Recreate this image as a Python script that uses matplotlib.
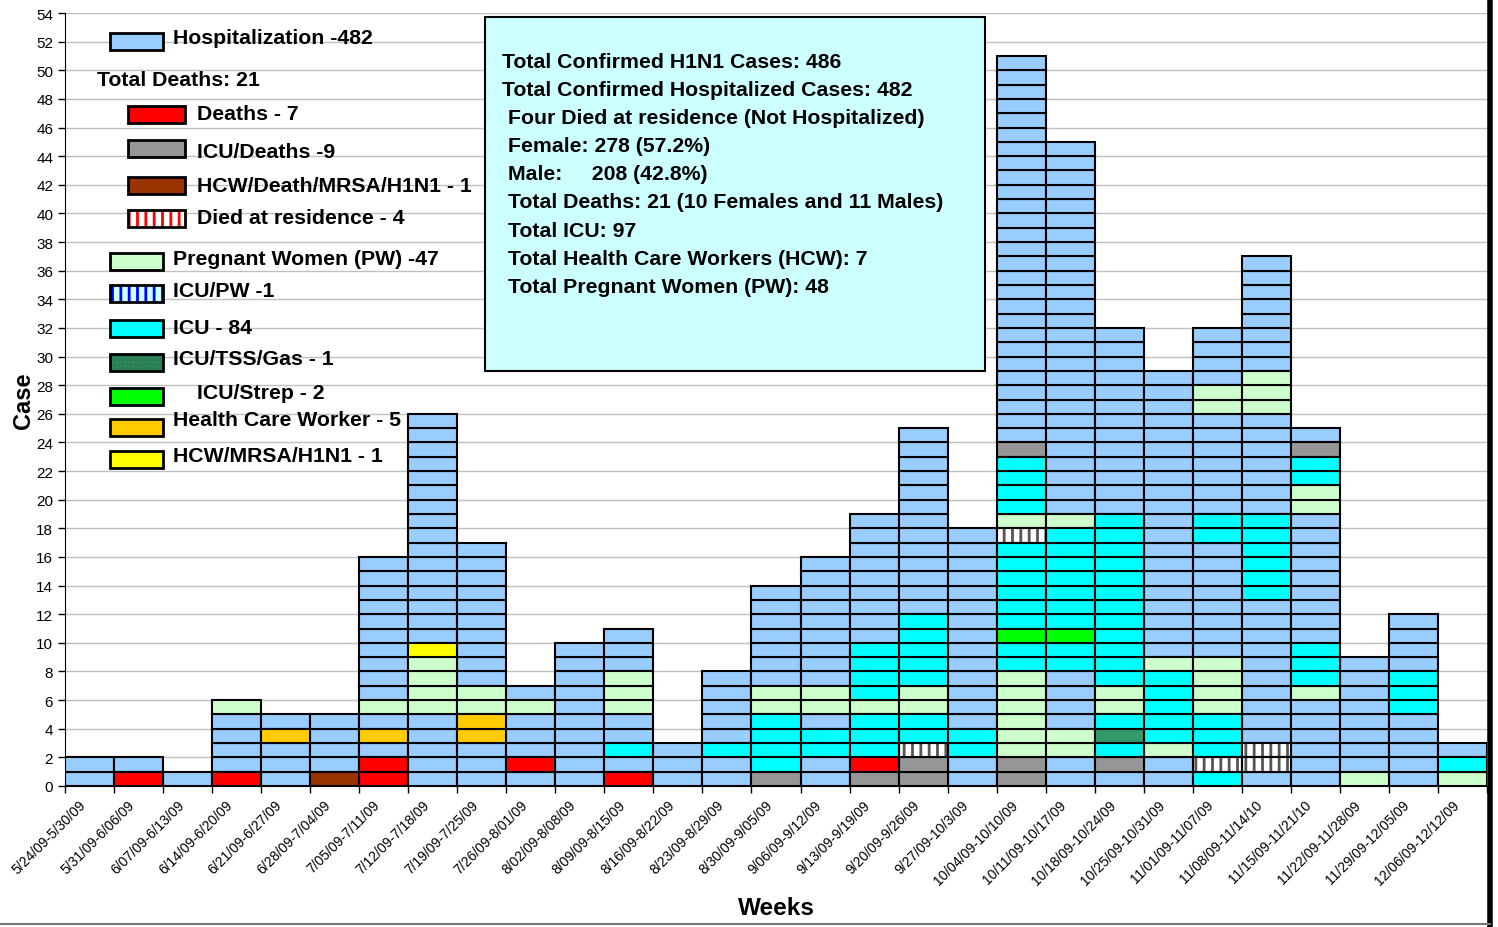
import matplotlib
matplotlib.use("Agg")
import matplotlib.pyplot as plt
from matplotlib.patches import Rectangle

# week labels (x axis)
weeks = ["5/24/09-5/30/09", "5/31/09-6/06/09", "6/07/09-6/13/09", "6/14/09-6/20/09",
         "6/21/09-6/27/09", "6/28/09-7/04/09", "7/05/09-7/11/09", "7/12/09-7/18/09",
         "7/19/09-7/25/09", "7/26/09-8/01/09", "8/02/09-8/08/09", "8/09/09-8/15/09",
         "8/16/09-8/22/09", "8/23/09-8/29/09", "8/30/09-9/05/09", "9/06/09-9/12/09",
         "9/13/09-9/19/09", "9/20/09-9/26/09", "9/27/09-10/3/09", "10/04/09-10/10/09",
         "10/11/09-10/17/09", "10/18/09-10/24/09", "10/25/09-10/31/09", "11/01/09-11/07/09",
         "11/08/09-11/14/10", "11/15/09-11/21/10", "11/22/09-11/28/09", "11/29/09-12/05/09",
         "12/06/09-12/12/09"]

# stacked cases per week, bottom to top, as (category, count) runs
# H hospitalization, D death, G ICU/death, B HCW/death, R died at residence,
# P pregnant, C ICU, T ICU/TSS, S ICU/strep, O HCW, Y HCW/MRSA
stacks = [
    [("H", 2)],
    [("D", 1), ("H", 1)],
    [("H", 1)],
    [("D", 1), ("H", 4), ("P", 1)],
    [("H", 3), ("O", 1), ("H", 1)],
    [("B", 1), ("H", 4)],
    [("D", 2), ("H", 1), ("O", 1), ("H", 1), ("P", 1), ("H", 10)],
    [("H", 5), ("P", 4), ("Y", 1), ("H", 16)],
    [("H", 3), ("O", 2), ("P", 2), ("H", 10)],
    [("H", 1), ("D", 1), ("H", 3), ("P", 1), ("H", 1)],
    [("H", 10)],
    [("D", 1), ("H", 1), ("C", 1), ("H", 2), ("P", 3), ("H", 3)],
    [("H", 3)],
    [("H", 2), ("C", 1), ("H", 5)],
    [("G", 1), ("C", 4), ("P", 2), ("H", 7)],
    [("H", 2), ("C", 2), ("H", 1), ("P", 2), ("H", 9)],
    [("G", 1), ("D", 1), ("C", 3), ("P", 1), ("C", 4), ("H", 9)],
    [("G", 2), ("R", 1), ("C", 2), ("P", 2), ("C", 5), ("H", 13)],
    [("H", 2), ("C", 2), ("H", 14)],
    [("G", 2), ("P", 6), ("C", 2), ("S", 1), ("C", 6), ("R", 1), ("P", 1), ("C", 4), ("G", 1), ("H", 27)],
    [("H", 2), ("P", 2), ("H", 4), ("C", 2), ("S", 1), ("C", 7), ("P", 1), ("H", 26)],
    [("H", 1), ("G", 1), ("C", 1), ("T", 1), ("C", 1), ("P", 2), ("C", 12), ("H", 13)],
    [("H", 2), ("P", 1), ("C", 5), ("P", 1), ("H", 20)],
    [("C", 1), ("R", 1), ("C", 3), ("P", 4), ("H", 8), ("C", 2), ("H", 7), ("P", 2), ("H", 4)],
    [("H", 1), ("R", 2), ("H", 10), ("C", 6), ("H", 7), ("P", 3), ("H", 8)],
    [("H", 6), ("P", 1), ("C", 3), ("H", 9), ("P", 2), ("C", 2), ("G", 1), ("H", 1)],
    [("P", 1), ("H", 8)],
    [("H", 5), ("C", 3), ("H", 4)],
    [("P", 1), ("C", 1), ("H", 1)],
]

colors = {"H": "#99CCFF", "D": "#FF0000", "G": "#969696", "B": "#993300",
          "R": "#FFFFFF", "P": "#CCFFCC", "C": "#00FFFF", "T": "#339966",
          "S": "#00FF00", "O": "#FFCC00", "Y": "#FFFF00"}

info_lines = ["Total Confirmed H1N1 Cases: 486",
              "Total Confirmed Hospitalized Cases: 482",
              "Four Died at residence (Not Hospitalized)",
              "Female: 278 (57.2%)",
              "Male:     208 (42.8%)",
              "Total Deaths: 21 (10 Females and 11 Males)",
              "Total ICU: 97",
              "Total Health Care Workers (HCW): 7",
              "Total Pregnant Women (PW): 48"]

plt.rcParams["font.family"] = ["Liberation Sans", "DejaVu Sans"]
plt.rcParams["hatch.linewidth"] = 2.0

W, H = 1498, 928
fig = plt.figure(figsize=(W / 100, H / 100), dpi=100)
ax = fig.add_axes([65 / W, 1 - 787 / H, 1422 / W, 773 / H])

# expand runs into single cells
cells = {code: ([], []) for code in colors}
for i, stack in enumerate(stacks):
    level = 0
    for code, n in stack:
        for _ in range(n):
            cells[code][0].append(i + 0.5)
            cells[code][1].append(level)
            level += 1

for code, (xs, bottoms) in cells.items():
    if not xs:
        continue
    if code == "R":
        ax.bar(xs, 1, bottom=bottoms, width=1, color="white", edgecolor="#555555",
               hatch="||", linewidth=0, zorder=2)
        ax.bar(xs, 1, bottom=bottoms, width=1, fill=False, edgecolor="black",
               linewidth=1.5, zorder=3)
    else:
        ax.bar(xs, 1, bottom=bottoms, width=1, color=colors[code], edgecolor="black",
               linewidth=1.5, zorder=2)

ax.set_xlim(0, len(weeks))
ax.set_ylim(0, 54)
ax.set_yticks(range(0, 55, 2))
ax.set_axisbelow(True)
ax.yaxis.grid(True, color="#c0c0c0", linewidth=1)
ax.set_xticks(range(len(weeks) + 1), labels=[])
# label anchors sit a little left of each column centre, as in the original
ax.set_xticks([i + 0.38 for i in range(len(weeks))], labels=weeks, minor=True)
for lab in ax.get_xticklabels(minor=True):
    lab.set_rotation(45)
    lab.set_ha("right")
    lab.set_va("center")
    lab.set_rotation_mode("anchor")
ax.tick_params(axis="x", which="major", length=5, width=1)
ax.tick_params(axis="x", which="minor", length=0, pad=12, labelsize=10)
ax.tick_params(axis="y", length=5, width=1, labelsize=11)
for s in ["top", "right"]:
    ax.spines[s].set_visible(False)
ax.set_ylabel("Case", fontsize=17, fontweight="bold", labelpad=2)
ax.set_xlabel("Weeks", fontsize=17.5, fontweight="bold", labelpad=2)
ax.yaxis.set_label_coords(-0.021, 0.5)
ax.xaxis.set_label_coords(0.5, -0.142)

# overlay in pixel coordinates for the legend and the info box
ov = fig.add_axes([0, 0, 1, 1])
ov.set_xlim(0, W)
ov.set_ylim(H, 0)
ov.axis("off")

ov.add_patch(Rectangle((485, 18), 500, 354, facecolor="#CCFFFF", edgecolor="black", linewidth=1.5))
for k, line in enumerate(info_lines):
    x0 = 502 if k < 2 else 508
    ov.text(x0, 62 + k * 28.2, line, fontsize=15.3, fontweight="bold", va="center", ha="left")

legend_items = [
    ("Hospitalization -482", 110, 42, 173, colors["H"], None, None),
    ("Deaths - 7", 128, 115, 197, colors["D"], None, None),
    ("ICU/Deaths -9", 128, 149, 197, colors["G"], None, None),
    ("HCW/Death/MRSA/H1N1 - 1", 128, 186, 197, colors["B"], None, None),
    ("Died at residence - 4", 128, 219, 197, "white", "||", "#FF0000"),
    ("Pregnant Women (PW) -47", 110, 262, 173, colors["P"], None, None),
    ("ICU/PW -1", 110, 294, 173, "#CCFFFF", "||", "#0000FF"),
    ("ICU - 84", 110, 329, 173, colors["C"], None, None),
    ("ICU/TSS/Gas - 1", 110, 363, 173, colors["T"], "++++", "#2A7F55"),
    ("ICU/Strep - 2", 110, 397, 197, colors["S"], None, None),
    ("Health Care Worker - 5", 110, 428, 173, colors["O"], None, None),
    ("HCW/MRSA/H1N1 - 1", 110, 460, 173, colors["Y"], None, None),
]
text_y = {"Hospitalization -482": 39, "ICU/Deaths -9": 153, "Pregnant Women (PW) -47": 260,
          "ICU/PW -1": 292, "ICU/TSS/Gas - 1": 360, "ICU/Strep - 2": 394,
          "Health Care Worker - 5": 421, "HCW/MRSA/H1N1 - 1": 457}
for label, bx, by, tx, fc, hatch, hc in legend_items:
    bw = 57 if bx == 128 else 53
    if hatch:
        ov.add_patch(Rectangle((bx, by - 8.5), bw, 17, facecolor=fc, edgecolor=hc,
                               hatch=hatch, linewidth=0))
        ov.add_patch(Rectangle((bx, by - 8.5), bw, 17, fill=False, edgecolor="black", linewidth=2))
    else:
        ov.add_patch(Rectangle((bx, by - 8.5), bw, 17, facecolor=fc, edgecolor="black", linewidth=2))
    ov.text(tx, text_y.get(label, by), label, fontsize=15.3, fontweight="bold", va="center", ha="left")
ov.text(97, 81, "Total Deaths: 21", fontsize=15.3, fontweight="bold", va="center", ha="left")

# figure frame on the right and bottom
ov.plot([1490, 1490], [0, H], color="black", linewidth=4)
ov.plot([0, 1490], [925, 925], color="#777777", linewidth=1.5)

fig.savefig("out.png", dpi=100)
